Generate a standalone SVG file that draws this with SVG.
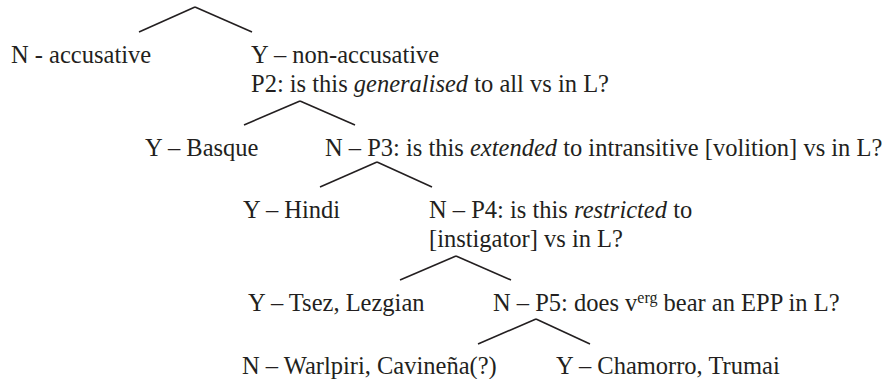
<svg xmlns="http://www.w3.org/2000/svg" width="885" height="379" viewBox="0 0 885 379">
<style>
text{font-family:"Liberation Serif","Times New Roman",serif;font-size:24.5px;fill:#231f20}
.it{font-style:italic}
.sup{font-size:16px}
#connectors line{stroke:#231f20;stroke-width:1.6;fill:none}
</style>
<rect width="885" height="379" fill="#ffffff"/>
<g id="connectors">
<line x1="139" y1="32" x2="195" y2="7"/><line x1="195" y1="7" x2="252" y2="32"/>
<line x1="244" y1="125" x2="300" y2="101"/><line x1="300" y1="101" x2="355" y2="125"/>
<line x1="320" y1="187" x2="377" y2="162"/><line x1="377" y1="162" x2="432" y2="187"/>
<line x1="400" y1="280" x2="456" y2="256"/><line x1="456" y1="256" x2="511" y2="280"/>
<line x1="478" y1="344" x2="536" y2="319"/><line x1="536" y1="319" x2="590" y2="344"/>
</g>
<g id="n-accusative"><text x="11" y="63">N - accusative</text></g>
<g id="y-nonaccusative"><text x="251" y="63">Y – non-accusative</text><text x="251" y="92">P2: is this <tspan class="it">generalised</tspan> to all vs in L?</text></g>
<g id="y-basque"><text x="145" y="156">Y – Basque</text></g>
<g id="n-p3"><text x="325" y="156">N – P3: is this <tspan class="it">extended</tspan> to intransitive [volition] vs in L?</text></g>
<g id="y-hindi"><text x="243" y="218">Y – Hindi</text></g>
<g id="n-p4"><text x="429" y="218">N – P4: is this <tspan class="it">restricted</tspan> to</text><text x="429" y="247">[instigator] vs in L?</text></g>
<g id="y-tsez"><text x="248" y="311">Y – Tsez, Lezgian</text></g>
<g id="n-p5"><text x="493" y="311">N – P5: does v<tspan class="sup" dy="-8">erg</tspan><tspan dy="8"> bear an EPP in L?</tspan></text></g>
<g id="n-warlpiri"><text x="242" y="374">N – Warlpiri, Cavineña(?)</text></g>
<g id="y-chamorro"><text x="556" y="374">Y – Chamorro, Trumai</text></g>
</svg>
